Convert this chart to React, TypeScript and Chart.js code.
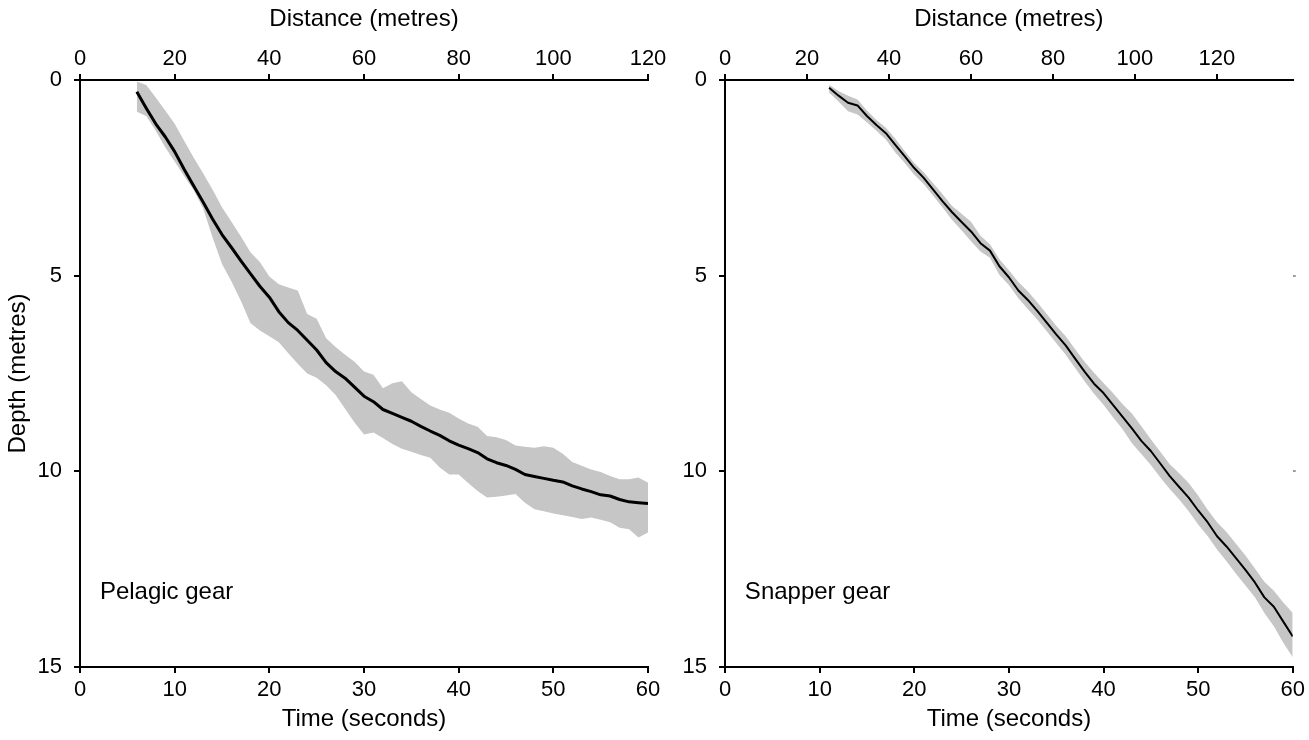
import { useEffect, useRef } from "react";
import { Chart, registerables } from "chart.js";

Chart.register(...registerables);

// ---------- Data ----------
const pelagicTime = [
  6, 7, 8, 9, 10, 11, 12, 13, 14, 15, 16, 17, 18, 19, 20, 21, 22, 23, 24, 25, 26, 27, 28, 29, 30,
  31, 32, 33, 34, 35, 36, 37, 38, 39, 40, 41, 42, 43, 44, 45, 46, 47, 48, 49, 50, 51, 52, 53, 54,
  55, 56, 57, 58, 59, 60,
];
const pelagicMean = [
  0.3, 0.72, 1.12, 1.45, 1.83, 2.28, 2.7, 3.12, 3.55, 3.95, 4.28, 4.62, 4.95, 5.27, 5.55, 5.92, 6.2,
  6.4, 6.65, 6.9, 7.22, 7.45, 7.62, 7.85, 8.08, 8.22, 8.42, 8.52, 8.62, 8.72, 8.85, 8.97, 9.08, 9.22,
  9.33, 9.42, 9.52, 9.68, 9.78, 9.85, 9.95, 10.08, 10.13, 10.18, 10.23, 10.27, 10.37, 10.45, 10.52,
  10.6, 10.63, 10.72, 10.78, 10.8, 10.82,
];
const pelagicUpper = [
  0.04, 0.13, 0.45, 0.78, 1.12, 1.55, 1.98, 2.38, 2.8, 3.25, 3.62, 4.0, 4.4, 4.65, 5.02, 5.22, 5.3,
  5.38, 5.98, 6.1, 6.6, 6.82, 7.02, 7.2, 7.45, 7.53, 7.88, 7.75, 7.7, 7.98, 8.15, 8.32, 8.42, 8.5,
  8.65, 8.78, 8.86, 9.1, 9.13, 9.2, 9.34, 9.37, 9.4, 9.36, 9.4, 9.55, 9.76, 9.86, 9.95, 10.02, 10.12,
  10.2, 10.2, 10.16, 10.29,
];
const pelagicLower = [
  0.81, 0.92, 1.3, 1.72, 2.08, 2.45, 2.81, 3.28, 4.02, 4.7, 5.15, 5.65, 6.21, 6.4, 6.55, 6.7, 6.98,
  7.25, 7.5, 7.61, 7.8, 8.05, 8.4, 8.75, 9.06, 9.01, 9.15, 9.3, 9.42, 9.5, 9.58, 9.65, 9.9, 10.08,
  10.08, 10.3, 10.5, 10.67, 10.65, 10.62, 10.58, 10.8, 10.97, 11.02, 11.08, 11.12, 11.17, 11.22,
  11.18, 11.24, 11.3, 11.44, 11.48, 11.69, 11.56,
];

const snapperTime = [
  11, 12, 13, 14, 15, 16, 17, 18, 19, 20, 21, 22, 23, 24, 25, 26, 27, 28, 29, 30, 31, 32, 33, 34,
  35, 36, 37, 38, 39, 40, 41, 42, 43, 44, 45, 46, 47, 48, 49, 50, 51, 52, 53, 54, 55, 56, 57, 58,
  59, 60,
];
const snapperMean = [
  0.2, 0.4, 0.58, 0.65, 0.92, 1.15, 1.36, 1.66, 1.95, 2.25, 2.5, 2.8, 3.1, 3.38, 3.63, 3.87, 4.17,
  4.36, 4.76, 5.04, 5.38, 5.62, 5.9, 6.2, 6.5, 6.78, 7.12, 7.45, 7.76, 8.0, 8.3, 8.6, 8.9, 9.22,
  9.48, 9.8, 10.12, 10.4, 10.67, 11.0, 11.3, 11.66, 11.92, 12.22, 12.52, 12.84, 13.22, 13.46, 13.84,
  14.22,
];
const snapperUpper = [
  0.12, 0.28, 0.4, 0.5, 0.78, 1.02, 1.22, 1.5, 1.82, 2.12, 2.36, 2.64, 2.92, 3.22, 3.42, 3.62, 3.98,
  4.2, 4.58, 4.86, 5.16, 5.4, 5.68, 5.98, 6.28, 6.55, 6.88, 7.2, 7.48, 7.74, 8.0, 8.28, 8.52, 8.85,
  9.18, 9.5, 9.82, 10.05, 10.3, 10.62, 10.98, 11.3, 11.55, 11.85, 12.15, 12.48, 12.82, 13.05, 13.35,
  13.62,
];
const snapperLower = [
  0.32, 0.55, 0.8, 0.88, 1.08, 1.3, 1.52, 1.85, 2.12, 2.42, 2.66, 2.96, 3.26, 3.58, 3.84, 4.12, 4.38,
  4.54, 4.98, 5.24, 5.58, 5.85, 6.12, 6.42, 6.72, 7.02, 7.36, 7.7, 8.02, 8.3, 8.62, 8.92, 9.28, 9.56,
  9.84, 10.16, 10.45, 10.72, 11.02, 11.36, 11.65, 12.0, 12.3, 12.62, 12.92, 13.22, 13.62, 13.96,
  14.38, 14.75,
];

// Axis ranges / ticks
const timeMin = 0;
const timeMax = 60;
const timeStep = 10;
const depthMin = 0;
const depthMax = 15;
const depthStep = 5;
const distanceStep = 20;
const pelagicDistanceMax = 120;
const snapperDistanceMax = 138.5;
const rightMarkTicks = [5, 10];

// Panel labels
const pelagicLabel = "Pelagic gear";
const snapperLabel = "Snapper gear";
const labelTime = 2.1;
const labelDepth = 13.1;

// ---------- Styling ----------
const FONT = "'Liberation Sans', Arial, Helvetica, sans-serif";
const TICK_SIZE = 22;
const TITLE_SIZE = 24;
const LABEL_SIZE = 24;
const BAND_COLOR = "#c6c6c6";

const toPts = (xs: number[], ys: number[]) => xs.map((x, i) => ({ x, y: ys[i] }));

const gearLabelPlugin = {
  id: "gearLabel",
  afterDraw(chart: any) {
    const o = chart.options.plugins.gearLabel;
    if (!o || !o.text) return;
    const { ctx, scales } = chart;
    ctx.save();
    ctx.font = `${LABEL_SIZE}px ${FONT}`;
    ctx.fillStyle = "#000";
    ctx.textAlign = "left";
    ctx.textBaseline = "middle";
    ctx.fillText(o.text, scales.x.getPixelForValue(o.t), scales.y.getPixelForValue(o.d));
    ctx.restore();
  },
};

type PanelProps = {
  time: number[];
  mean: number[];
  upper: number[];
  lower: number[];
  distanceMax: number;
  label: string;
  yTitle: boolean;
  yWidth: number;
  padRight: number;
  lineWidth: number;
  rightMarks: boolean;
};

function buildConfig(p: PanelProps): any {
  const tickFont = { family: FONT, size: TICK_SIZE };
  const titleFont = { family: FONT, size: TITLE_SIZE };
  const grid = { drawOnChartArea: false, drawTicks: true, tickLength: 6, color: "#000", lineWidth: 2 };
  const border = { display: true, color: "#000", width: 2 };
  const scales: any = {
    x: {
      type: "linear",
      position: "bottom",
      min: timeMin,
      max: timeMax,
      ticks: { stepSize: timeStep, font: tickFont, color: "#000", padding: 4, maxRotation: 0 },
      grid,
      border,
      title: { display: true, text: "Time (seconds)", font: titleFont, color: "#000", padding: { top: 0, bottom: 6 } },
      afterFit: (s: any) => {
        s.height = 73;
      },
    },
    x2: {
      type: "linear",
      position: "top",
      min: 0,
      max: p.distanceMax,
      ticks: { stepSize: distanceStep, includeBounds: false, font: tickFont, color: "#000", padding: 2, maxRotation: 0 },
      grid,
      border,
      title: { display: true, text: "Distance (metres)", font: titleFont, color: "#000", padding: { top: 5, bottom: 0 } },
      afterFit: (s: any) => {
        s.height = 80;
      },
    },
    y: {
      type: "linear",
      position: "left",
      min: depthMin,
      max: depthMax,
      reverse: true,
      ticks: { stepSize: depthStep, font: tickFont, color: "#000", padding: 12 },
      grid,
      border,
      title: { display: p.yTitle, text: "Depth (metres)", font: titleFont, color: "#000", padding: { top: 4, bottom: 0 } },
      afterFit: (s: any) => {
        s.width = p.yWidth;
      },
    },
  };
  if (p.rightMarks) {
    scales.y2 = {
      type: "linear",
      position: "right",
      min: depthMin,
      max: depthMax,
      reverse: true,
      afterBuildTicks: (s: any) => {
        s.ticks = rightMarkTicks.map((v) => ({ value: v }));
      },
      ticks: { display: false },
      grid: { drawOnChartArea: false, drawTicks: true, tickLength: 3, color: "#9a9a9a", lineWidth: 2 },
      border: { display: false },
      afterFit: (s: any) => {
        s.width = 4;
      },
    };
  }
  return {
    type: "line",
    data: {
      datasets: [
        {
          data: toPts(p.time, p.upper),
          fill: "+1",
          order: 2,
          backgroundColor: BAND_COLOR,
          borderColor: "rgba(0,0,0,0)",
          borderWidth: 0,
          pointRadius: 0,
          tension: 0,
        },
        {
          data: toPts(p.time, p.lower),
          fill: false,
          order: 2,
          backgroundColor: BAND_COLOR,
          borderColor: "rgba(0,0,0,0)",
          borderWidth: 0,
          pointRadius: 0,
          tension: 0,
        },
        {
          data: toPts(p.time, p.mean),
          fill: false,
          order: 0,
          borderColor: "#000",
          borderWidth: p.lineWidth,
          pointRadius: 0,
          tension: 0,
          borderJoinStyle: "round",
        },
      ],
    },
    options: {
      animation: false,
      responsive: false,
      devicePixelRatio: 1,
      layout: { padding: { left: 0, top: 0, bottom: 0, right: p.padRight } },
      plugins: {
        legend: { display: false },
        tooltip: { enabled: false },
        gearLabel: { text: p.label, t: labelTime, d: labelDepth },
      },
      scales,
    },
    plugins: [gearLabelPlugin],
  };
}

function Panel(props: PanelProps & { left: number; width: number }) {
  const ref = useRef<HTMLCanvasElement | null>(null);
  useEffect(() => {
    if (!ref.current) return;
    const chart = new Chart(ref.current, buildConfig(props));
    return () => chart.destroy();
  }, []);
  return (
    <canvas
      ref={ref}
      width={props.width}
      height={740}
      style={{ position: "absolute", left: props.left, top: 0, width: props.width, height: 740 }}
    />
  );
}

export default function App() {
  return (
    <div style={{ position: "fixed", left: 0, top: 0, width: 1309, height: 740, background: "#fff", overflow: "hidden" }}>
      <Panel
        left={0}
        width={700}
        time={pelagicTime}
        mean={pelagicMean}
        upper={pelagicUpper}
        lower={pelagicLower}
        distanceMax={pelagicDistanceMax}
        label={pelagicLabel}
        yTitle={true}
        yWidth={80}
        padRight={52}
        lineWidth={3}
        rightMarks={false}
      />
      <Panel
        left={620}
        width={689}
        time={snapperTime}
        mean={snapperMean}
        upper={snapperUpper}
        lower={snapperLower}
        distanceMax={snapperDistanceMax}
        label={snapperLabel}
        yTitle={false}
        yWidth={105}
        padRight={10}
        lineWidth={2}
        rightMarks={true}
      />
    </div>
  );
}
